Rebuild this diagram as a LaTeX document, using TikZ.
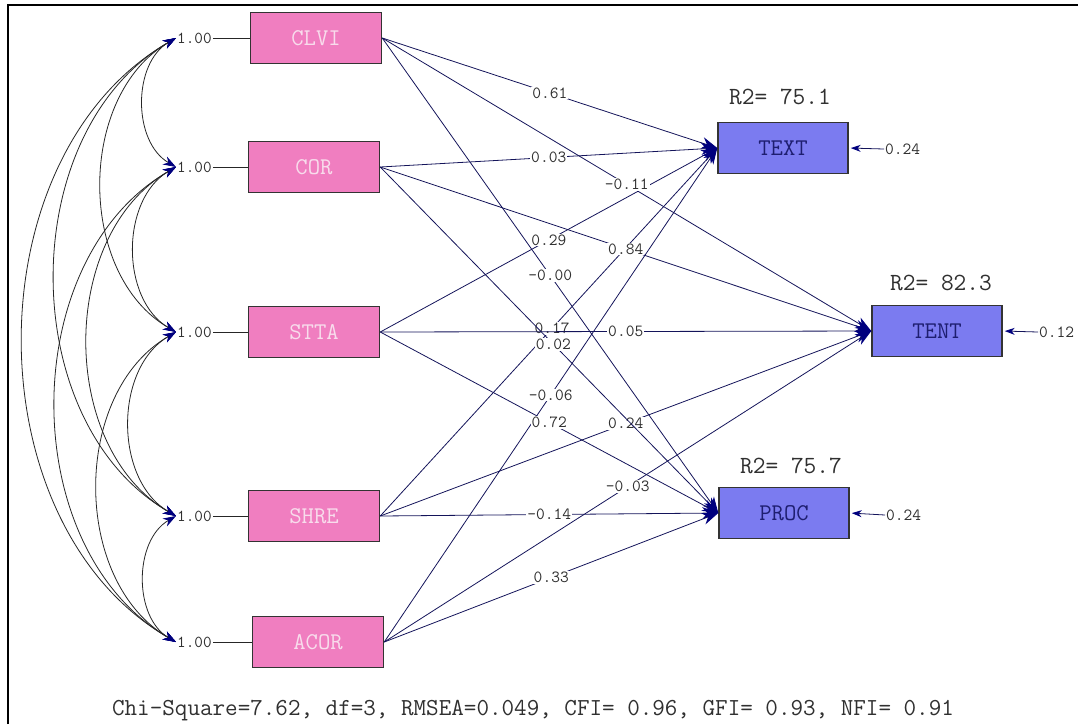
\documentclass[tikz,border=0pt]{standalone}
\usepackage{fontspec}
\usetikzlibrary{arrows.meta}
\definecolor{pinkbox}{HTML}{F07EC0}
\definecolor{bluebox}{HTML}{7B7BF0}
\definecolor{navy}{HTML}{14145A}
\definecolor{tipc}{HTML}{00007E}
\definecolor{pinktext}{HTML}{F8DCEC}
\definecolor{bluetext}{HTML}{1E1E70}
\definecolor{labc}{HTML}{303030}
\begin{document}
\begin{tikzpicture}[x=1pt,y=-1pt,
  exo/.style={draw=black!80, line width=1.5pt, fill=pinkbox, minimum width=131pt, minimum height=51pt, inner sep=0pt, text=pinktext, font=\ttfamily\fontsize{24}{24}\selectfont},
  endo/.style={draw=black!80, line width=1.5pt, fill=bluebox, minimum width=130pt, minimum height=51pt, inner sep=0pt, text=bluetext, font=\ttfamily\fontsize{24}{24}\selectfont},
  coef/.style={fill=white, inner sep=1pt, text=labc, font=\ttfamily\fontsize{17}{17}\selectfont},
  varl/.style={anchor=west, inner sep=1pt, text=labc, font=\ttfamily\fontsize{16.7}{16.7}\selectfont},
  errl/.style={anchor=west, inner sep=1pt, text=labc, font=\ttfamily\fontsize{17}{17}\selectfont},
  rsq/.style={inner sep=1pt, text=labc, font=\ttfamily\fontsize{24.7}{24.7}\selectfont},
  fitl/.style={inner sep=1pt, text=labc, font=\ttfamily\fontsize{24.4}{24.4}\selectfont},
  pth/.style={draw=navy, line width=0.8pt, -{Stealth[length=16pt,width=12pt,color=tipc]}},
  cov/.style={draw=black!85, line width=0.8pt, {Stealth[length=13pt,width=9pt,color=tipc]}-{Stealth[length=13pt,width=9pt,color=tipc]}},
  errarr/.style={draw=navy, line width=0.8pt, shorten >=2pt, -{Stealth[length=10pt,width=7pt,color=tipc]}},
  lnk/.style={draw=black!85, line width=0.8pt}
]
\useasboundingbox (0,0) rectangle (1078,724);
% frame
\draw[line width=2pt] (8,724) -- (8,5) -- (1078,5);

% exogenous boxes
\node[exo] (clvi) at (316,38) {CLVI};
\node[exo] (cor) at (314,167) {COR};
\node[exo] (stta) at (314,332) {STTA};
\node[exo] (shre) at (314,516) {SHRE};
\node[exo] (acor) at (318,642) {ACOR};

% endogenous boxes
\node[endo] (text) at (783,148) {TEXT};
\node[endo] (tent) at (937,331) {TENT};
\node[endo] (proc) at (784,513) {PROC};

% variance labels
\node[varl] (v1) at (176,38) {1.00};
\node[varl] (v2) at (176,167) {1.00};
\node[varl] (v3) at (176,332) {1.00};
\node[varl] (v4) at (176,516) {1.00};
\node[varl] (v5) at (176,642) {1.00};
\draw[lnk] (v1.east) -- (clvi.west);
\draw[lnk] (v2.east) -- (cor.west);
\draw[lnk] (v3.east) -- (stta.west);
\draw[lnk] (v4.east) -- (shre.west);
\draw[lnk] (v5.east) -- (acor.west);

% covariances
\draw[cov] (v1.west) to[bend right=60] (v2.west);
\draw[cov] (v2.west) to[bend right=60] (v3.west);
\draw[cov] (v3.west) to[bend right=60] (v4.west);
\draw[cov] (v4.west) to[bend right=60] (v5.west);
\draw[cov] (v1.west) to[bend right=60] (v3.west);
\draw[cov] (v2.west) to[bend right=60] (v4.west);
\draw[cov] (v3.west) to[bend right=60] (v5.west);
\draw[cov] (v1.west) to[bend right=60] (v4.west);
\draw[cov] (v2.west) to[bend right=60] (v5.west);
\draw[cov] (v1.west) to[bend right=60] (v5.west);

% paths to TEXT
\draw[pth] (clvi.east) -- node[coef] {0.61} (text.west);
\draw[pth] (cor.east) -- node[coef] {0.03} (text.west);
\draw[pth] (stta.east) -- node[coef] {0.29} (text.west);
\draw[pth] (shre.east) -- node[coef, pos=0.51] {0.17} (text.west);
\draw[pth] (acor.east) -- node[coef] {-0.06} (text.west);
% paths to TENT
\draw[pth] (clvi.east) -- node[coef] {-0.11} (tent.west);
\draw[pth] (cor.east) -- node[coef] {0.84} (tent.west);
\draw[pth] (stta.east) -- node[coef] {0.05} (tent.west);
\draw[pth] (shre.east) -- node[coef] {0.24} (tent.west);
\draw[pth] (acor.east) -- node[coef] {-0.03} (tent.west);
% paths to PROC
\draw[pth] (clvi.east) -- node[coef] {-0.00} (proc.west);
\draw[pth] (cor.east) -- node[coef, pos=0.512] {0.02} (proc.west);
\draw[pth] (stta.east) -- node[coef] {0.72} (proc.west);
\draw[pth] (shre.east) -- node[coef] {-0.14} (proc.west);
\draw[pth] (acor.east) -- node[coef] {0.33} (proc.west);

% error terms
\node[errl] (e1) at (884,149) {0.24};
\node[errl] (e2) at (1038,332) {0.12};
\node[errl] (e3) at (885,515) {0.24};
\draw[errarr] (e1.west) -- (text.east);
\draw[errarr] (e2.west) -- (tent.east);
\draw[errarr] (e3.west) -- (proc.east);

% R2 labels
\node[rsq] (r1) at (780,97) {R2= 75.1};
\node[rsq] (r2) at (941,283) {R2= 82.3};
\node[rsq] (r3) at (791,466) {R2= 75.7};

% fit statistics
\node[fitl] (fit) at (533,711) {Chi-Square=7.62, df=3, RMSEA=0.049, CFI= 0.96, GFI= 0.93, NFI= 0.91};
\end{tikzpicture}
\end{document}
